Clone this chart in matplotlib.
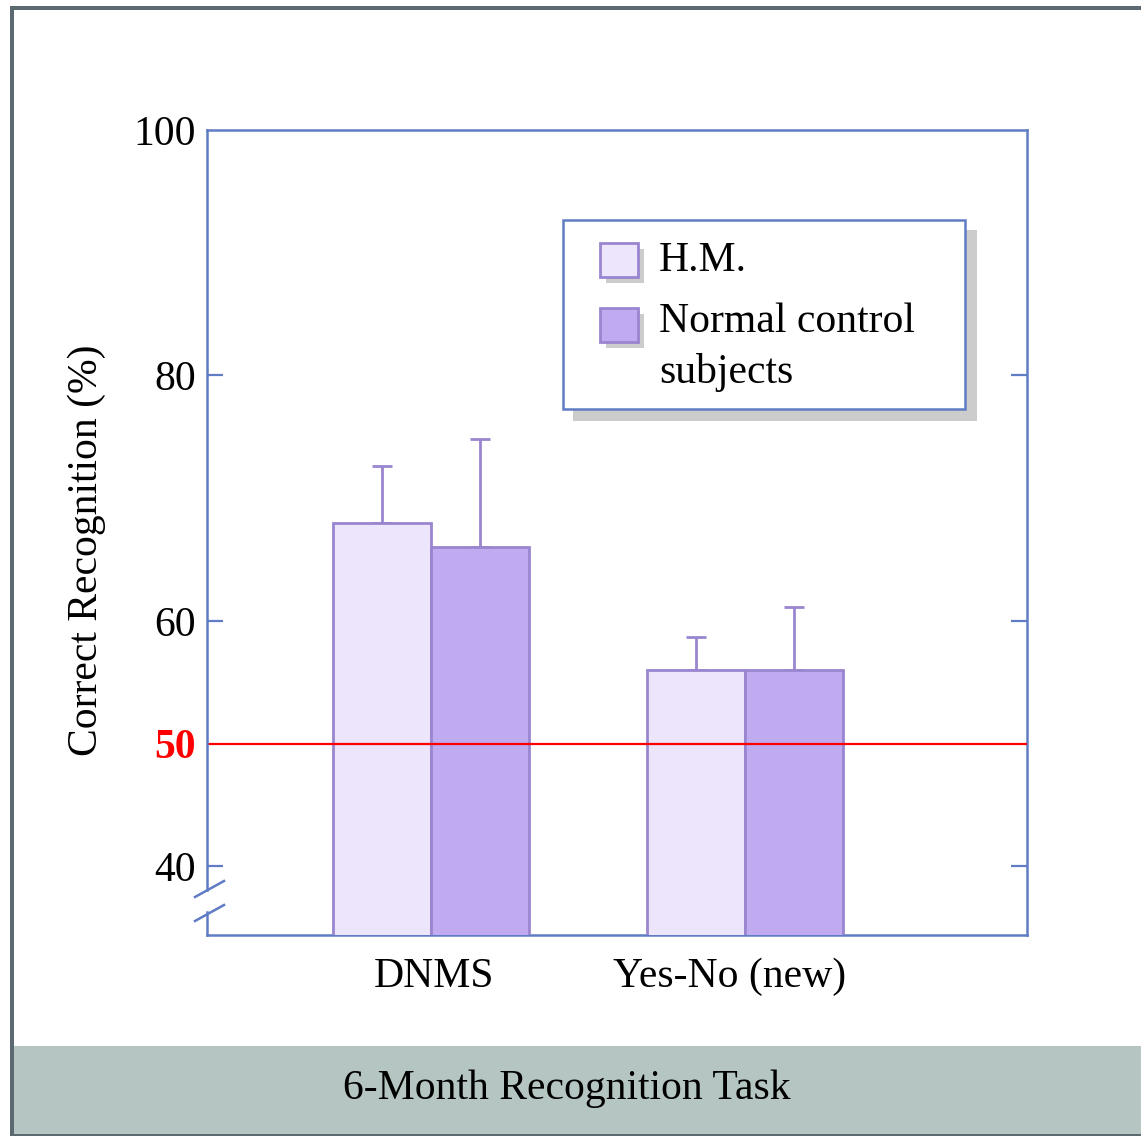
import matplotlib
matplotlib.use("Agg")
import matplotlib.pyplot as plt
from matplotlib.patches import Rectangle
from matplotlib.lines import Line2D
from matplotlib.transforms import ScaledTranslation
import numpy as np

# ---------------- data ----------------
categories = ["DNMS", "Yes-No (new)"]
series_names = ["H.M.", "Normal control\nsubjects"]
hm_values = [68.0, 56.0]
control_values = [66.0, 56.0]
hm_errors = [4.6, 2.7]
control_errors = [8.8, 5.1]
ytick_values = [40, 50, 60, 80, 100]
ytick_labels = ["40", "50", "60", "80", "100"]
chance_level = 50
title_text = "6-Month Recognition Task"
ylabel_text = "Correct Recognition (%)"

# ---------------- style ----------------
W, H = 1141, 1136
plt.rcParams['font.family'] = ['Liberation Serif', 'DejaVu Serif']
FS = 30
hm_color = '#ede5fb'
ctrl_color = '#c0aaf0'
edge_color = '#9a85d0'
axis_color = '#5f7cc4'
frame_color = '#5b6a71'
band_color = '#b5c5c1'

fig = plt.figure(figsize=(W / 100, H / 100), dpi=100)


def fx(x):
    return x / W


def fy(y):
    return 1 - y / H


ax_l, ax_r, ax_t, ax_b = 207, 1027, 130, 935
ax = fig.add_axes([fx(ax_l), fy(ax_b), (ax_r - ax_l) / W, (ax_b - ax_t) / H])

x = np.arange(len(categories))
w = 0.312
LW = 2.0
ax.bar(x - w / 2, hm_values, width=w, color=hm_color, edgecolor=edge_color,
       linewidth=LW, zorder=3, label=series_names[0])
ax.bar(x + w / 2, control_values, width=w, color=ctrl_color, edgecolor=edge_color,
       linewidth=LW, zorder=3, label=series_names[1])
ax.errorbar(x - w / 2, hm_values, yerr=[np.zeros(len(hm_errors)), hm_errors],
            fmt='none', ecolor=edge_color, elinewidth=LW, capsize=7.5,
            capthick=LW, zorder=2)
ax.errorbar(x + w / 2, control_values, yerr=[np.zeros(len(control_errors)), control_errors],
            fmt='none', ecolor=edge_color, elinewidth=LW, capsize=7.5,
            capthick=LW, zorder=2)
ax.axhline(chance_level, color='red', lw=1.6, zorder=4)

ax.set_xlim(-0.713, 1.898)
ax.set_ylim(34.4, 100)

ax.set_yticks(ytick_values)
ax.set_yticklabels(ytick_labels, fontsize=FS)
for lab, v in zip(ax.get_yticklabels(), ytick_values):
    if v == chance_level:
        lab.set_color('red')
        lab.set_fontweight('bold')
ax.tick_params(axis='y', direction='in', length=11.5, width=1.6, color=axis_color,
               right=True, pad=8)
for t, v in zip(ax.yaxis.get_major_ticks(), ytick_values):
    if v in (chance_level, 100):
        t.tick1line.set_visible(False)
        t.tick2line.set_visible(False)

ax.set_xticks(x)
ax.set_xticklabels(categories, fontsize=FS)
ax.tick_params(axis='x', length=0, pad=16)
xlabs = ax.get_xticklabels()
shifts = [3, -15]
for lab, s in zip(xlabs, shifts):
    lab.set_transform(lab.get_transform() + ScaledTranslation(s / 100, 0, fig.dpi_scale_trans))

for s in ['top', 'right', 'bottom']:
    ax.spines[s].set_color(axis_color)
    ax.spines[s].set_linewidth(1.8)
ax.spines['left'].set_visible(False)

# left spine with break
for (y0, y1) in [(ax_t, 890), (912, ax_b)]:
    fig.add_artist(Line2D([fx(ax_l), fx(ax_l)], [fy(y0), fy(y1)],
                          color=axis_color, lw=1.8))
for (y0, y1) in [(897, 881), (921, 905)]:
    fig.add_artist(Line2D([fx(195), fx(224)], [fy(y0), fy(y1)],
                          color=axis_color, lw=1.8))

# y label
fig.text(fx(87), fy(550), ylabel_text, rotation=90, ha='center', va='center',
         fontsize=FS)

# legend (manual)
fig.add_artist(Rectangle((fx(573), fy(421)), (977 - 573) / W, (421 - 230) / H,
                         transform=fig.transFigure, facecolor='#cccccc',
                         edgecolor='none', zorder=5))
fig.add_artist(Rectangle((fx(563), fy(409)), (965 - 563) / W, (409 - 220) / H,
                         transform=fig.transFigure, facecolor='white',
                         edgecolor=axis_color, lw=1.8, zorder=6))
patch_tops = [243, 308]
patch_colors = [hm_color, ctrl_color]
for top, col in zip(patch_tops, patch_colors):
    fig.add_artist(Rectangle((fx(606), fy(top + 40)), 38 / W, 34 / H,
                             transform=fig.transFigure, facecolor='#cccccc',
                             edgecolor='none', zorder=7))
    fig.add_artist(Rectangle((fx(600), fy(top + 34)), 38 / W, 34 / H,
                             transform=fig.transFigure, facecolor=col,
                             edgecolor=edge_color, lw=LW, zorder=8))
fig.text(fx(659), fy(261), series_names[0], ha='left', va='center',
         fontsize=FS, zorder=9)
fig.text(fx(659), fy(303), series_names[1], ha='left', va='top',
         fontsize=FS, zorder=9, linespacing=1.38)

# frame and bottom band
fig.add_artist(Rectangle((fx(13), fy(1134)), (W - 13) / W, (1134 - 1046) / H,
                         transform=fig.transFigure, facecolor=band_color,
                         edgecolor='none', zorder=1))
fig.add_artist(Rectangle((fx(10), fy(1136)), 3.5 / W, (1136 - 6) / H,
                         transform=fig.transFigure, facecolor=frame_color,
                         edgecolor='none', zorder=2))
fig.add_artist(Rectangle((fx(10), fy(9.5)), (W - 10) / W, 3.5 / H,
                         transform=fig.transFigure, facecolor=frame_color,
                         edgecolor='none', zorder=2))
fig.add_artist(Rectangle((fx(10), fy(1136)), (W - 10) / W, 2.5 / H,
                         transform=fig.transFigure, facecolor=frame_color,
                         edgecolor='none', zorder=2))
fig.text(fx(567), fy(1089), title_text, ha='center', va='center', fontsize=FS,
         zorder=3)

fig.savefig("out.png", dpi=100)
